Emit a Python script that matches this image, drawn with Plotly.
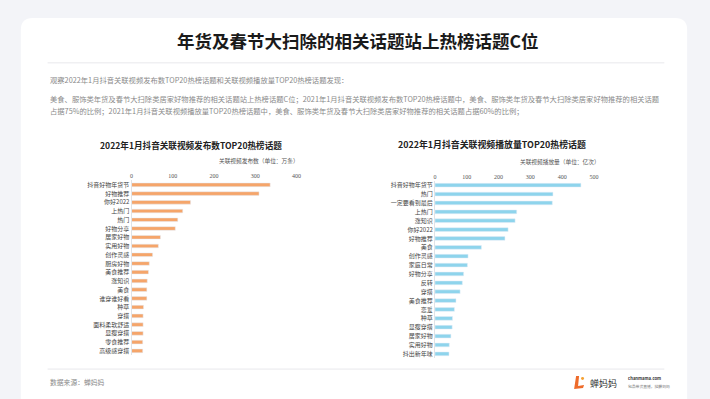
import plotly.graph_objects as go

W, H = 710, 399

# ---- data ----
left_categories = ["抖音好物年货节", "好物推荐", "你好2022", "上热门", "热门", "好物分享", "居家好物",
                   "实用好物", "创作灵感", "厨房好物", "美食推荐", "涨知识", "美食", "谁穿谁好看",
                   "种草", "穿搭", "面料柔软舒适", "显瘦穿搭", "零食推荐", "高级感穿搭"]
left_values = [336, 309, 143, 124, 112, 106, 70, 65, 51, 43, 41, 38, 37, 37, 29, 28, 28, 28, 27, 27]

right_categories = ["抖音好物年货节", "热门", "一定要看到最后", "上热门", "涨知识", "你好2022", "好物推荐",
                    "美食", "创作灵感", "家庭日常", "好物分享", "反转", "穿搭", "美食推荐", "恋爱",
                    "种草", "显瘦穿搭", "居家好物", "实用好物", "抖出新年味"]
right_values = [459, 371, 369, 257, 252, 230, 220, 146, 104, 102, 90, 86, 79, 66, 61, 55, 54, 50, 45, 44]

left_ticks = [0, 100, 200, 300, 400]
right_ticks = [0, 100, 200, 300, 400, 500]

title = "年货及春节大扫除的相关话题站上热榜话题C位"
para = [
    "观察2022年1月抖音关联视频发布数TOP20热榜话题和关联视频播放量TOP20热榜话题发现：",
    "美食、服饰类年货及春节大扫除类居家好物推荐的相关话题站上热榜话题C位；2021年1月抖音关联视频发布数TOP20热榜话题中，美食、服饰类年货及春节大扫除类居家好物推荐的相关话题",
    "占据75%的比例；2021年1月抖音关联视频播放量TOP20热榜话题中，美食、服饰类年货及春节大扫除类居家好物推荐的相关话题占据60%的比例；",
]
left_title = "2022年1月抖音关联视频发布数TOP20热榜话题"
right_title = "2022年1月抖音关联视频播放量TOP20热榜话题"
left_unit = "关联视频发布数（单位：万条）"
right_unit = "关联视频播放量（单位：亿次）"
source = "数据来源：蝉妈妈"

FONT = "Noto Sans CJK SC"


def px(x):
    return x / W


def py(y):
    return 1 - y / H


fig = go.Figure()

fig.add_trace(go.Bar(x=left_values, y=left_categories, orientation="h",
                     marker=dict(color="#F5A56A"), width=0.42,
                     xaxis="x", yaxis="y", hoverinfo="x+y"))
fig.add_trace(go.Bar(x=right_values, y=right_categories, orientation="h",
                     marker=dict(color="#8ED4EC"), width=0.42,
                     xaxis="x2", yaxis="y2", hoverinfo="x+y"))

shapes = []
# white card with rounded corners
x0, y0, x1, y1, r = px(20), py(17), px(692), py(420), 12
rx, ry = r / W, r / H
card = (f"M {x0+rx},{y0} L {x1-rx},{y0} Q {x1},{y0} {x1},{y0-ry} "
        f"L {x1},{y1} L {x0},{y1} L {x0},{y0-ry} Q {x0},{y0} {x0+rx},{y0} Z")
shapes.append(dict(type="path", path=card, xref="paper", yref="paper",
                   fillcolor="white", line=dict(width=0), layer="below"))
# divider lines
for yy in (62, 369):
    shapes.append(dict(type="line", xref="paper", yref="paper", x0=px(47), x1=px(669),
                       y0=py(yy), y1=py(yy), line=dict(color="#e8e8ec", width=1)))
# logo mark
logo = (f"M {px(580)},{py(376)} L {px(578)},{py(389)} L {px(587)},{py(388)} "
        f"L {px(588)},{py(385)} L {px(582)},{py(386)} L {px(583)},{py(376)} Z")
shapes.append(dict(type="path", path=logo, xref="paper", yref="paper",
                   fillcolor="#EE6B2A", line=dict(width=0)))
shapes.append(dict(type="circle", xref="paper", yref="paper", x0=px(585), x1=px(588),
                   y0=py(380), y1=py(377), fillcolor="#F5A030", line=dict(width=0)))

ann = []
ann.append(dict(text=f"<b>{title}</b>", x=px(360), y=py(40), xref="paper", yref="paper",
                showarrow=False, xanchor="center", yanchor="middle",
                font=dict(size=17.5, color="#1a1a1a", family=FONT)))
for yy, t in zip((79, 98, 110), para):
    ann.append(dict(text=t, x=px(47), y=py(yy), xref="paper", yref="paper", showarrow=False,
                    xanchor="left", yanchor="middle", font=dict(size=7.3, color="#8a8a8a", family=FONT)))
ann.append(dict(text=f"<b>{left_title}</b>", x=px(191.7), y=py(144), xref="paper", yref="paper",
                showarrow=False, xanchor="center", yanchor="middle",
                font=dict(size=8.6, color="#222222", family=FONT)))
ann.append(dict(text=f"<b>{right_title}</b>", x=px(495), y=py(144), xref="paper", yref="paper",
                showarrow=False, xanchor="center", yanchor="middle",
                font=dict(size=8.9, color="#222222", family=FONT)))
ann.append(dict(text=left_unit, x=px(303), y=py(160), xref="paper", yref="paper",
                showarrow=False, xanchor="right", yanchor="middle",
                font=dict(size=5.7, color="#555555", family=FONT)))
ann.append(dict(text=right_unit, x=px(606), y=py(160.5), xref="paper", yref="paper",
                showarrow=False, xanchor="right", yanchor="middle",
                font=dict(size=5.7, color="#555555", family=FONT)))
ann.append(dict(text=source, x=px(47), y=py(382), xref="paper", yref="paper",
                showarrow=False, xanchor="left", yanchor="middle",
                font=dict(size=6.8, color="#8a8a8a", family=FONT)))
ann.append(dict(text="蝉妈妈", x=px(592), y=py(383), xref="paper", yref="paper",
                showarrow=False, xanchor="left", yanchor="middle",
                font=dict(size=9, color="#333333", family=FONT)))
ann.append(dict(text="<b>chanmama.com</b>", x=px(630), y=py(378), xref="paper", yref="paper",
                showarrow=False, xanchor="left", yanchor="middle",
                font=dict(size=4.2, color="#333333", family=FONT)))
ann.append(dict(text="包品带货直播，找蝉妈妈", x=px(630), y=py(386), xref="paper", yref="paper",
                showarrow=False, xanchor="left", yanchor="middle",
                font=dict(size=3.8, color="#777777", family=FONT)))

axis_common = dict(showgrid=False, zeroline=False, ticks="", side="top", ticklabelstandoff=0,
                   tickfont=dict(size=6, color="#555555", family="Liberation Serif"))
ycommon = dict(type="category", autorange="reversed", showgrid=False, zeroline=False, ticks="",
               showline=True, linecolor="#dfe3e8", linewidth=1,
               tickfont=dict(size=6, color="#444444", family=FONT))

fig.update_layout(
    width=W, height=H, margin=dict(l=0, r=0, t=0, b=0),
    paper_bgcolor="#f3f4f8", plot_bgcolor="rgba(0,0,0,0)",
    showlegend=False, bargap=0.58,
    font=dict(family=FONT),
    xaxis=dict(domain=[px(131.7), px(298.1)], range=[0, 400], tickvals=left_ticks,
               anchor="y", **axis_common),
    yaxis=dict(domain=[py(355.1), py(179.9)], anchor="x", **ycommon),
    xaxis2=dict(domain=[px(437.7), px(598)], range=[0, 500], tickvals=right_ticks,
                anchor="y2", **axis_common),
    yaxis2=dict(domain=[py(358.2), py(180.2)], anchor="x2", **ycommon),
    shapes=shapes, annotations=ann,
)

fig.write_html("out.html", config={"displayModeBar": False},
               post_script="document.body.style.margin='0';document.body.style.background='#f3f4f8';")
